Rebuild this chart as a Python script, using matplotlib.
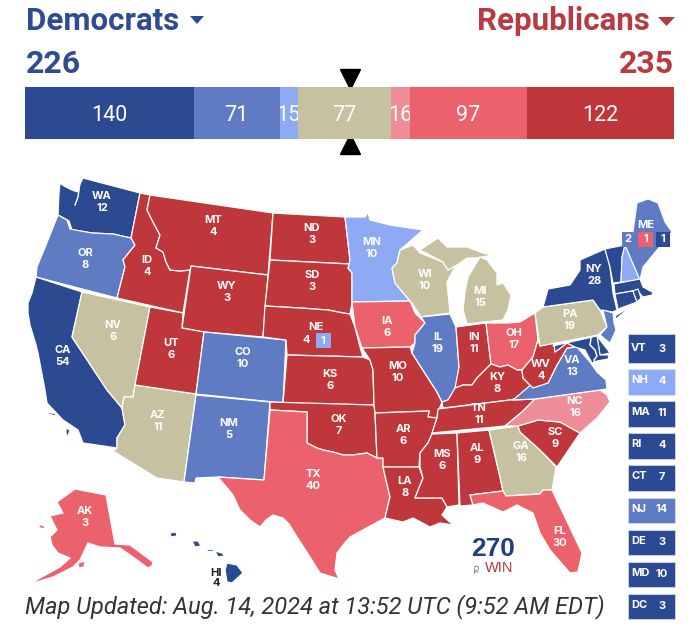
import matplotlib
matplotlib.use('Agg')
import matplotlib.pyplot as plt
from matplotlib.patches import Polygon, Rectangle

# bar segments, dem side to rep side
bar_values = [140, 71, 15, 77, 16, 97, 122]
bar_ratings = ['safe_d', 'likely_d', 'lean_d', 'toss', 'lean_r', 'likely_r', 'safe_r']
dem_total = 226
rep_total = 235
win_mark = 269

colors = {'safe_d': '#2c4a92', 'likely_d': '#5f7bc3', 'lean_d': '#8faaf4', 'toss': '#c6c1a0',
          'lean_r': '#ee8d97', 'likely_r': '#ec626c', 'safe_r': '#bf373b'}
dem_color = '#2f4c90'
rep_color = '#b93a40'

states = ['WA', 'OR', 'CA', 'NV', 'AZ', 'ID', 'MT', 'WY', 'UT', 'CO', 'NM', 'ND', 'SD', 'NE', 'KS', 'OK', 'TX',
          'MN', 'IA', 'MO', 'AR', 'LA', 'WI', 'IL', 'MI', 'IN', 'OH', 'KY', 'TN', 'MS', 'AL', 'GA', 'FL',
          'SC', 'NC', 'VA', 'WV', 'PA', 'NY', 'AK', 'HI']
votes = [12, 8, 54, 6, 11, 4, 4, 3, 6, 10, 5, 3, 3, 4, 6, 7, 40,
         10, 6, 10, 6, 8, 10, 19, 15, 11, 17, 8, 11, 6, 9, 16, 30,
         9, 16, 13, 4, 19, 28, 3, 4]
ratings = ['safe_d', 'likely_d', 'safe_d', 'toss', 'toss', 'safe_r', 'safe_r', 'safe_r', 'safe_r', 'likely_d',
           'likely_d', 'safe_r', 'safe_r', 'safe_r', 'safe_r', 'safe_r', 'likely_r',
           'lean_d', 'likely_r', 'safe_r', 'safe_r', 'safe_r', 'toss', 'likely_d', 'toss', 'safe_r', 'likely_r',
           'safe_r', 'safe_r', 'safe_r', 'safe_r', 'toss', 'likely_r',
           'safe_r', 'lean_r', 'likely_d', 'safe_r', 'toss', 'safe_d', 'likely_r', 'safe_d']

tile_states = ['VT', 'NH', 'MA', 'RI', 'CT', 'NJ', 'DE', 'MD', 'DC']
tile_votes = [3, 4, 11, 4, 7, 14, 3, 10, 3]
tile_ratings = ['safe_d', 'lean_d', 'safe_d', 'safe_d', 'safe_d', 'likely_d', 'safe_d', 'safe_d', 'safe_d']

# state outlines, in pixels
outlines = {
    'WA': [[(60, 183), (64, 186), (72, 190), (78, 192), (79, 186), (83, 178), (140, 193), (131, 238), (113, 234),
            (92, 233), (72, 230), (69, 221), (58, 215), (59, 193)]],
    'OR': [[(58, 215), (67, 220), (70, 229), (92, 233), (113, 234), (131, 238), (135, 245), (123, 260), (125, 267),
            (117, 298), (36, 277), (37, 267), (48, 240)]],
    'CA': [[(36, 277), (82, 292), (72, 337), (107, 390), (122, 408), (125, 425), (117, 438), (117, 448), (83, 443),
            (78, 430), (63, 420), (47, 403), (45, 390), (38, 353), (36, 345), (30, 325), (28, 313), (28, 303), (32, 293)],
           [(48, 412), (56, 414), (55, 416), (49, 414)],
           [(66, 428), (70, 430), (68, 436), (66, 434)]],
    'NV': [[(82, 292), (150, 307), (135, 385), (133, 397), (124, 397), (122, 408), (107, 390), (72, 337)]],
    'AZ': [[(135, 385), (196, 394), (184, 482), (157, 478), (113, 451), (117, 448), (117, 438), (125, 425), (122, 408),
            (124, 397), (133, 397)]],
    'ID': [[(140, 193), (150, 195), (147, 210), (153, 222), (160, 235), (156, 248), (163, 252), (166, 262), (170, 270),
            (180, 271), (190, 270), (183, 313), (117, 298), (125, 267), (123, 260), (135, 245), (131, 238)]],
    'MT': [[(150, 195), (273, 213), (268, 275), (191, 266), (190, 270), (180, 271), (170, 270), (166, 262), (163, 252),
            (156, 248), (160, 235), (153, 222), (147, 210)]],
    'WY': [[(191, 266), (268, 275), (263, 337), (204, 332), (182, 328)]],
    'UT': [[(150, 307), (183, 313), (182, 328), (204, 332), (196, 394), (135, 385)]],
    'CO': [[(204, 332), (286, 340), (283, 403), (196, 394)]],
    'NM': [[(196, 395), (270, 402), (264, 480), (218, 477), (196, 478), (195, 483), (184, 482)]],
    'ND': [[(273, 213), (345, 217), (350, 260), (350, 264), (270, 260)]],
    'SD': [[(270, 260), (350, 264), (348, 268), (352, 273), (352, 303), (350, 314), (343, 313), (328, 310), (300, 308),
            (265, 306)]],
    'NE': [[(265, 306), (300, 308), (328, 310), (343, 313), (350, 314), (355, 327), (360, 347), (363, 357), (287, 355),
            (286, 340), (263, 337)]],
    'KS': [[(287, 355), (363, 357), (370, 360), (373, 370), (374, 405), (283, 403)]],
    'OK': [[(270, 402), (374, 405), (375, 413), (377, 458), (367, 453), (353, 455), (343, 455), (333, 452), (323, 450),
            (317, 448), (307, 443), (307, 412), (270, 410)]],
    'TX': [[(270, 410), (307, 412), (307, 443), (317, 448), (323, 450), (333, 452), (343, 455), (353, 455), (367, 453),
            (377, 458), (383, 458), (383, 467), (390, 497), (385, 518), (372, 525), (361, 531), (350, 537), (343, 545),
            (337, 553), (335, 570), (339, 579), (320, 573), (310, 557), (297, 537), (289, 524), (283, 518), (273, 515),
            (266, 520), (260, 527), (250, 520), (240, 510), (233, 495), (218, 477), (264, 480)]],
    'MN': [[(345, 217), (365, 217), (368, 212), (370, 220), (390, 225), (423, 230), (400, 250), (397, 263), (392, 268),
            (395, 283), (410, 301), (352, 302), (352, 273), (348, 268), (350, 260)]],
    'IA': [[(352, 302), (410, 301), (415, 313), (425, 323), (415, 335), (415, 343), (410, 347), (362, 348), (355, 327)]],
    'MO': [[(362, 348), (410, 347), (412, 353), (428, 378), (437, 392), (442, 402), (438, 412), (437, 418), (428, 417),
            (429, 411), (375, 413), (374, 405), (373, 370), (370, 360)]],
    'AR': [[(375, 413), (429, 411), (428, 417), (437, 418), (432, 434), (428, 443), (420, 453), (419, 467), (383, 467),
            (383, 458), (377, 458)]],
    'LA': [[(383, 467), (419, 467), (423, 478), (415, 498), (442, 498), (447, 507), (442, 515), (453, 525), (440, 523),
            (430, 527), (413, 518), (403, 522), (385, 518), (390, 497)]],
    'WI': [[(400, 250), (413, 245), (420, 253), (443, 262), (448, 270), (456, 265), (447, 282), (450, 313), (421, 317),
            (412, 303), (410, 301), (395, 283), (392, 268), (397, 263)]],
    'IL': [[(421, 317), (450, 314), (456, 327), (459, 367), (457, 387), (448, 400), (442, 402), (437, 392), (428, 378),
            (412, 353), (415, 343), (415, 335), (425, 323)]],
    'MI': [[(420, 250), (438, 238), (447, 247), (467, 247), (483, 253), (493, 255), (477, 258), (467, 258), (457, 265),
            (448, 270), (443, 262)],
           [(480, 257), (487, 260), (497, 273), (497, 285), (503, 283), (511, 295), (508, 310), (503, 320), (467, 324),
            (463, 310), (465, 292), (468, 277)]],
    'IN': [[(456, 327), (486, 323), (491, 364), (482, 373), (477, 378), (472, 385), (463, 385), (455, 388), (459, 367)]],
    'OH': [[(486, 323), (507, 323), (520, 322), (535, 313), (538, 340), (533, 357), (522, 370), (517, 370), (508, 365),
            (500, 367), (491, 364)]],
    'KY': [[(455, 388), (463, 385), (472, 385), (477, 378), (482, 373), (491, 364), (500, 367), (508, 365), (517, 370),
            (522, 370), (523, 378), (533, 388), (517, 398), (510, 400), (443, 408), (442, 402), (448, 400)]],
    'TN': [[(438, 409), (510, 400), (535, 399), (522, 412), (505, 426), (432, 433), (437, 418)]],
    'MS': [[(432, 434), (457, 433), (459, 505), (447, 507), (442, 498), (415, 498), (423, 478), (420, 467), (420, 453),
            (428, 443)]],
    'AL': [[(457, 433), (489, 430), (500, 477), (503, 491), (470, 495), (473, 505), (460, 506)]],
    'GA': [[(489, 430), (518, 426), (520, 432), (540, 450), (556, 467), (552, 490), (543, 490), (540, 494), (506, 496),
            (503, 491), (500, 477)]],
    'FL': [[(470, 495), (503, 491), (506, 496), (540, 494), (543, 490), (552, 490), (563, 513), (582, 553), (578, 572),
            (570, 573), (550, 550), (540, 533), (533, 513), (517, 505), (503, 512), (483, 503), (473, 505)],
           [(561, 584), (567, 581), (566, 583)]],
    'SC': [[(518, 426), (538, 420), (560, 422), (580, 433), (557, 467), (540, 450), (520, 432)]],
    'NC': [[(535, 399), (600, 390), (607, 395), (610, 402), (597, 418), (580, 433), (560, 422), (538, 420), (518, 426),
            (505, 426), (522, 412)]],
    'VA': [[(513, 400), (533, 383), (548, 383), (557, 365), (567, 348), (577, 347), (590, 362), (597, 372), (606, 380),
            (607, 389), (600, 390), (535, 399)]],
    'WV': [[(522, 370), (533, 357), (538, 340), (540, 346), (554, 343), (555, 352), (567, 343), (575, 347), (567, 348),
            (557, 365), (548, 383), (533, 388), (523, 378)]],
    'PA': [[(543, 307), (593, 300), (600, 310), (607, 327), (598, 335), (540, 346), (535, 313)]],
    'NY': [[(543, 307), (548, 289), (570, 285), (580, 270), (580, 260), (605, 249), (610, 267), (613, 293), (617, 310),
            (613, 312), (600, 310), (593, 300)],
           [(615, 316), (633, 305), (616, 319)]],
    'AK': [[(75, 489), (106, 495), (115, 544), (130, 545), (153, 562), (152, 566), (148, 568), (133, 557), (120, 548),
            (100, 547), (88, 543), (80, 560), (73, 567), (53, 577), (30, 584), (40, 578), (60, 567), (70, 558), (58, 553),
            (52, 545), (50, 537), (57, 530), (50, 516), (63, 513), (57, 502)],
           [(78, 563), (85, 561), (84, 567), (79, 568)],
           [(38, 524), (44, 526), (45, 529), (40, 528)]],
    'HI': [[(227, 563), (237, 565), (243, 573), (232, 583), (227, 582), (225, 570)],
           [(215, 551), (222, 553), (225, 556), (218, 557)],
           [(192, 541), (198, 541), (201, 546), (195, 547)],
           [(170, 533), (176, 532), (177, 536), (171, 537)],
           [(206, 549), (213, 549), (213, 551), (207, 551)]],
}
small_outlines = {
    'VT': [(605, 249), (625, 245), (622, 257), (621, 282), (613, 283), (610, 267)],
    'NH': [(625, 245), (640, 280), (621, 282), (622, 257)],
    'ME': [(637, 203), (648, 199), (658, 203), (665, 222), (672, 232), (657, 250), (643, 267), (640, 280), (625, 245),
           (633, 232)],
    'MA': [(614, 284), (640, 279), (643, 287), (652, 292), (655, 287), (652, 295), (643, 297), (637, 290), (615, 294)],
    'CT': [(615, 294), (633, 291), (637, 302), (618, 309)],
    'RI': [(633, 291), (638, 289), (641, 298), (637, 302)],
    'NJ': [(603, 310), (613, 313), (614, 323), (616, 330), (610, 343), (600, 335), (607, 327)],
    'DE': [(597, 336), (610, 353), (600, 355)],
    'MD': [(553, 346), (597, 336), (600, 355), (609, 355), (608, 359), (597, 361), (592, 363), (585, 350), (575, 347),
           (567, 343), (555, 352), (554, 343)],
}
small_ratings = {'VT': 'safe_d', 'NH': 'lean_d', 'ME': 'likely_d', 'MA': 'safe_d', 'CT': 'safe_d', 'RI': 'safe_d',
                 'NJ': 'likely_d', 'DE': 'safe_d', 'MD': 'safe_d'}

# where the state labels sit
label_pos = {'WA': (102, 202), 'OR': (85, 259), 'CA': (63, 356), 'NV': (113, 331), 'AZ': (158, 421), 'ID': (147, 266),
             'MT': (213, 226), 'WY': (227, 292), 'UT': (171, 349), 'CO': (243, 358), 'NM': (229, 429), 'ND': (312, 234),
             'SD': (312, 281), 'KS': (330, 380), 'OK': (339, 425), 'TX': (313, 480), 'MN': (372, 248), 'IA': (387, 327),
             'MO': (398, 372), 'AR': (403, 435), 'LA': (405, 487), 'WI': (425, 280), 'IL': (438, 343), 'MI': (480, 297),
             'IN': (474, 343), 'OH': (514, 339), 'KY': (497, 383), 'TN': (479, 414), 'MS': (442, 460), 'AL': (477, 454),
             'GA': (521, 452), 'FL': (560, 537), 'SC': (555, 438), 'NC': (575, 407), 'VA': (572, 366), 'WV': (541, 370),
             'PA': (570, 320), 'NY': (594, 275), 'AK': (85, 517)}

plt.rcParams['font.family'] = ['Inter', 'DejaVu Sans']
lab = dict(fontsize=8, fontweight='bold', ha='center', va='center')

fig = plt.figure(figsize=(7, 6.26), dpi=100)
ax = fig.add_axes([0, 0, 1, 1])
ax.set_xlim(0, 700)
ax.set_ylim(626, 0)
ax.axis('off')

# header
ax.text(26, 21, 'Democrats', color=dem_color, fontsize=22.5, fontweight='bold', family='Roboto', va='center')
ax.text(26, 64, str(dem_total), color=dem_color, fontsize=23, fontweight='bold', family='Roboto', va='center')
ax.text(650, 21, 'Republicans', color=rep_color, fontsize=22.5, fontweight='bold', family='Roboto', va='center', ha='right')
ax.text(674, 64, str(rep_total), color=rep_color, fontsize=23, fontweight='bold', family='Roboto', va='center', ha='right')
ax.add_patch(Polygon([(190, 16), (204, 16), (197, 24)], color=dem_color, lw=0))
ax.add_patch(Polygon([(658, 17), (675, 17), (666.5, 26)], color=rep_color, lw=0))

# the map
for st, rate in zip(states, ratings):
    for part in outlines[st]:
        ax.add_patch(Polygon(part, closed=True, fc=colors[rate], ec='white', lw=0.9, joinstyle='round'))
for st in small_outlines:
    ax.add_patch(Polygon(small_outlines[st], closed=True, fc=colors[small_ratings[st]], ec='white', lw=0.8,
                         joinstyle='round'))

# Chesapeake and the sound
ax.plot([591, 590, 595, 597, 594, 598], [338, 345, 350, 356, 360, 370], color='white', lw=1.1)
ax.plot([80, 78, 75], [183, 197, 205], color='white', lw=1.0)

for st, v in zip(states, votes):
    if st not in label_pos:
        continue
    x, y = label_pos[st]
    ax.text(x, y - 6, st, color='white', **lab)
    ax.text(x, y + 6, str(v), color='white', **lab)

# Nebraska has a district box
ne_votes = votes[states.index('NE')]
ax.text(316, 327, 'NE', color='white', **lab)
ax.text(306, 340, str(ne_votes), color='white', **lab)
ax.add_patch(Rectangle((315.5, 333), 15, 15, fc=colors['lean_d'], ec='none'))
ax.text(323, 340.5, '1', color='white', **lab)

# Maine boxes
ax.text(646, 225, 'ME', color='white', **lab)
for x0, w, rate, v in [(622, 11, 'likely_d', 2), (638, 15, 'likely_r', 1), (656, 14, 'safe_d', 1)]:
    ax.add_patch(Rectangle((x0, 232), w, 15, fc=colors[rate], ec='none'))
    ax.text(x0 + w / 2, 239.5, str(v), color='white', **lab)

# Hawaii label is dark
ax.text(216, 573, 'HI', color='#222222', **lab)
ax.text(216, 583, str(votes[states.index('HI')]), color='#222222', **lab)

# tiles on the right, first one is a bit taller
for i, (st, v, rate) in enumerate(zip(tile_states, tile_votes, tile_ratings)):
    top = 337 + i * 32.1
    extra = 3 if i == 0 else 0
    ax.add_patch(Rectangle((628, top - extra), 47, 25.5 + extra, fc=colors[rate], ec='#dfe4f0', lw=0.5))
    ax.text(631, top + 11, st, color='white', fontsize=8, fontweight='bold', va='center')
    ax.text(662, top + 12, str(v), color='white', fontsize=8, fontweight='bold', va='center', ha='center')

# logo
ax.text(493, 549, '270', color='#1f3f7f', fontsize=19, fontweight='bold', ha='center', va='center',
        family=['Liberation Sans Narrow', 'Liberation Sans'])
ax.text(499, 568.5, 'WIN', color='#b5393f', fontsize=10.5, ha='center', va='center',
        family=['Liberation Sans Narrow', 'Liberation Sans'])
ax.text(478, 568.5, 'TO', color='#555566', fontsize=5, ha='center', va='center', rotation=90,
        family=['Liberation Sans Narrow', 'Liberation Sans'])

ax.text(25, 607, 'Map Updated: Aug. 14, 2024 at 13:52 UTC (9:52 AM EDT)', color='#333333', fontsize=17,
        fontstyle='italic', family='Roboto', va='center')

# electoral vote bar
bar_ax = fig.add_axes([25 / 700, 1 - 139 / 626, 649 / 700, 52 / 626])
bar_ax.set_xlim(0, sum(bar_values))
bar_ax.set_ylim(0, 1)
bar_ax.axis('off')
left = 0
for v, rate in zip(bar_values, bar_ratings):
    b = bar_ax.barh(0.5, v, height=1, left=left, color=colors[rate], zorder=2)[0]
    t = bar_ax.text(left + v / 2, 0.46, str(v), color='white', fontsize=15.5, family='Roboto', ha='center', va='center',
                    zorder=3, clip_on=True)
    t.set_clip_path(b)
    left += v
bar_ax.plot([win_mark], [1.16], marker='v', ms=14, color='black', clip_on=False, zorder=1)
bar_ax.plot([win_mark], [-0.1], marker='^', ms=14, color='black', clip_on=False, zorder=1)

fig.savefig('out.png', dpi=100)
